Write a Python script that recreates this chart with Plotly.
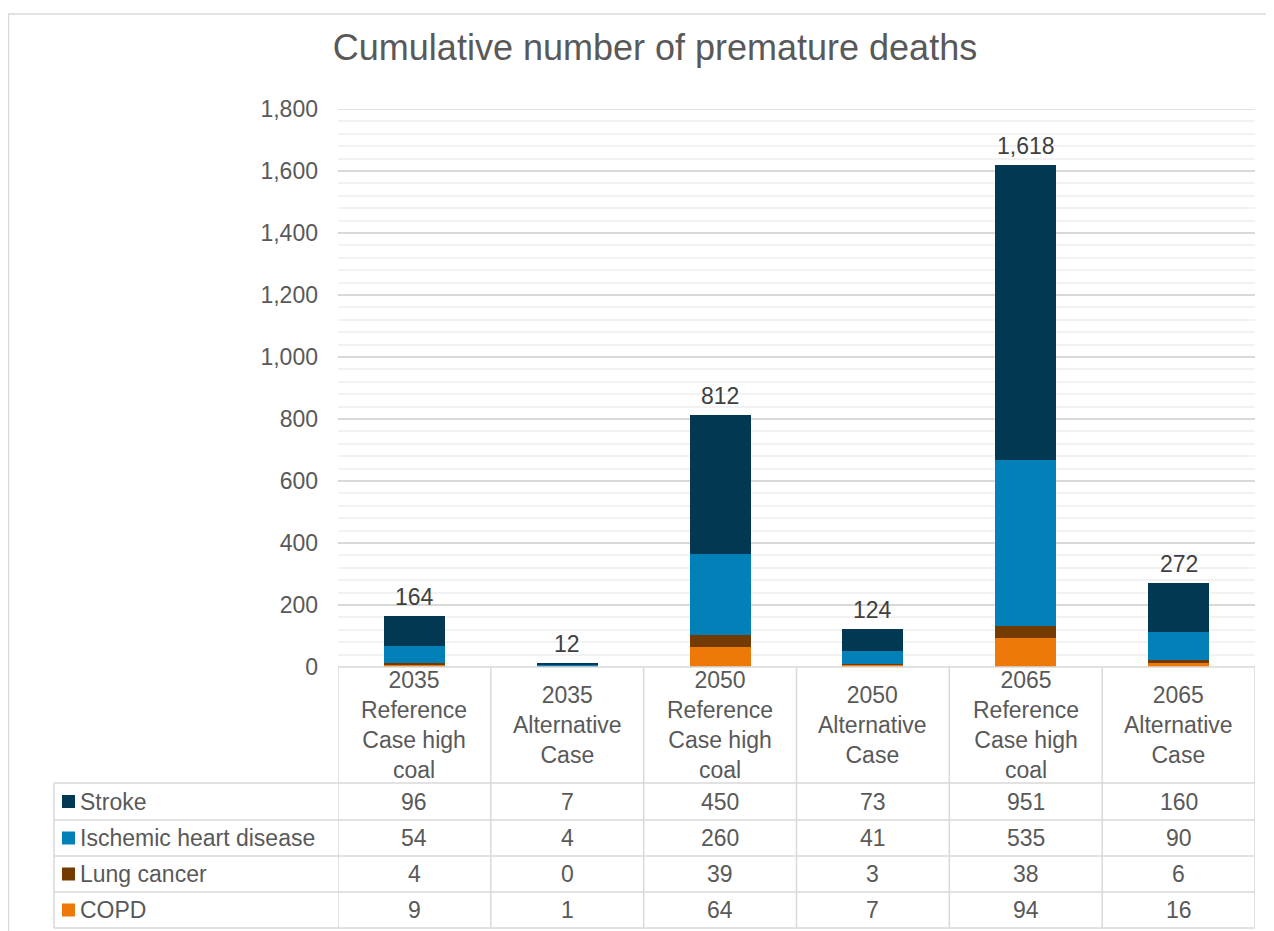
import plotly.graph_objects as go

# data
categories = ["2035<br>Reference<br>Case high<br>coal", "2035<br>Alternative<br>Case",
              "2050<br>Reference<br>Case high<br>coal", "2050<br>Alternative<br>Case",
              "2065<br>Reference<br>Case high<br>coal", "2065<br>Alternative<br>Case"]
series_names = ["COPD", "Lung cancer", "Ischemic heart disease", "Stroke"]
copd = [9, 1, 64, 7, 94, 16]
lung_cancer = [4, 0, 39, 3, 38, 6]
ischemic = [54, 4, 260, 41, 535, 90]
stroke = [96, 7, 450, 73, 951, 160]
totals = [164, 12, 812, 124, 1618, 272]

colors = {"COPD": "#EF780A", "Lung cancer": "#733A02",
          "Ischemic heart disease": "#0480B9", "Stroke": "#033852"}
values = {"COPD": copd, "Lung cancer": lung_cancer,
          "Ischemic heart disease": ischemic, "Stroke": stroke}

# page has an 8px body margin, so the figure is shrunk by that and offsets subtracted
OFF = 8
W, H = 1274 - 2 * OFF, 931 - OFF
FONT = "Liberation Sans, Arial, sans-serif"
GREY = "#595959"
LINE = "#D9D9D9"
FS = 23
YMAX = 1800


def py(pix):
    # screen pixel row -> paper y
    return 1 - (pix - OFF) / H


def px(pix):
    return (pix - OFF) / W


x_idx = list(range(len(categories)))

fig = go.Figure()
for name in series_names:
    fig.add_trace(go.Bar(
        x=x_idx, y=values[name], name=name, width=0.4,
        marker=dict(color=colors[name], line=dict(width=0)),
        showlegend=False, hoverinfo="y+name",
    ))

# totals above bars
for i, t in enumerate(totals):
    fig.add_annotation(x=i, y=t, text=f"{t:,}", showarrow=False, yshift=19,
                       font=dict(size=FS, color="#404040", family=FONT))

shapes = []
# chart outer border
shapes.append(dict(type="rect", xref="paper", yref="paper",
                   x0=px(8.5), x1=px(1300), y0=py(980), y1=py(14),
                   line=dict(color=LINE, width=1.5)))
# top gridline (plotly drops the one sitting on the range edge)
shapes.append(dict(type="line", xref="x domain", yref="y", x0=0, x1=1,
                   y0=YMAX, y1=YMAX, layer="below",
                   line=dict(color=LINE, width=1.5)))

# data table
header_top, header_bot = 667, 783
row_edges = [783, 820, 856, 892, 928]
table_left = 54
col_left_pix, col_right_pix = 338, 1255
shapes.append(dict(type="line", xref="paper", yref="paper",
                   x0=px(col_left_pix), x1=px(col_right_pix),
                   y0=py(header_top), y1=py(header_top),
                   line=dict(color=LINE, width=1.5)))
for yy in row_edges:
    shapes.append(dict(type="line", xref="paper", yref="paper",
                       x0=px(table_left), x1=px(col_right_pix), y0=py(yy), y1=py(yy),
                       line=dict(color=LINE, width=1.5)))
# vertical lines (column boundaries on the category axis)
for k in range(len(categories) + 1):
    shapes.append(dict(type="line", xref="x", yref="paper",
                       x0=k - 0.5, x1=k - 0.5, y0=py(928), y1=py(header_top),
                       line=dict(color=LINE, width=1.5)))
shapes.append(dict(type="line", xref="paper", yref="paper",
                   x0=px(table_left), x1=px(table_left), y0=py(928), y1=py(783),
                   line=dict(color=LINE, width=1.5)))

# header text
for i, c in enumerate(categories):
    fig.add_annotation(x=i, xref="x", y=py((header_top + header_bot) / 2), yref="paper",
                       text=c, showarrow=False, yanchor="middle",
                       font=dict(size=FS, color=GREY, family=FONT))

# table rows (top to bottom: Stroke, IHD, Lung cancer, COPD)
row_order = ["Stroke", "Ischemic heart disease", "Lung cancer", "COPD"]
for r, name in enumerate(row_order):
    y0p, y1p = row_edges[r], row_edges[r + 1]
    ym = (y0p + y1p) / 2
    shapes.append(dict(type="rect", xref="paper", yref="paper",
                       x0=px(62), x1=px(75), y0=py(ym + 6.5), y1=py(ym - 6.5),
                       fillcolor=colors[name], line=dict(width=0)))
    fig.add_annotation(x=px(78), xref="paper", y=py(ym), yref="paper",
                       text=name, showarrow=False, xanchor="left", yanchor="middle",
                       font=dict(size=FS, color=GREY, family=FONT))
    for i, v in enumerate(values[name]):
        fig.add_annotation(x=i, xref="x", y=py(ym), yref="paper",
                           text=f"{v:,}", showarrow=False, yanchor="middle",
                           font=dict(size=FS, color=GREY, family=FONT))

fig.update_layout(
    width=W, height=H, barmode="stack",
    paper_bgcolor="white", plot_bgcolor="white",
    margin=dict(l=0, r=0, t=0, b=0, pad=0),
    shapes=shapes,
    title=dict(text="Cumulative number of premature deaths", x=px(655), xanchor="center",
               y=py(47), yanchor="middle", automargin=False,
               font=dict(size=36, color=GREY, family=FONT)),
    xaxis=dict(domain=[px(338), px(1255)], range=[-0.5, 5.5], automargin=False,
               showticklabels=False, showgrid=False, zeroline=False,
               showline=False, fixedrange=True),
    yaxis=dict(domain=[py(667), py(109)], range=[0, YMAX], dtick=200,
               automargin=False,
               tickformat=",", showgrid=True, gridcolor=LINE, gridwidth=1.5,
               zeroline=False, showline=False, ticks="",
               ticklabelstandoff=19,
               tickfont=dict(size=FS, color=GREY, family=FONT),
               minor=dict(dtick=40, showgrid=True, gridcolor="#F2F2F2", gridwidth=1.5)),
    bargap=0.6,
)

fig.write_html("out.html")
